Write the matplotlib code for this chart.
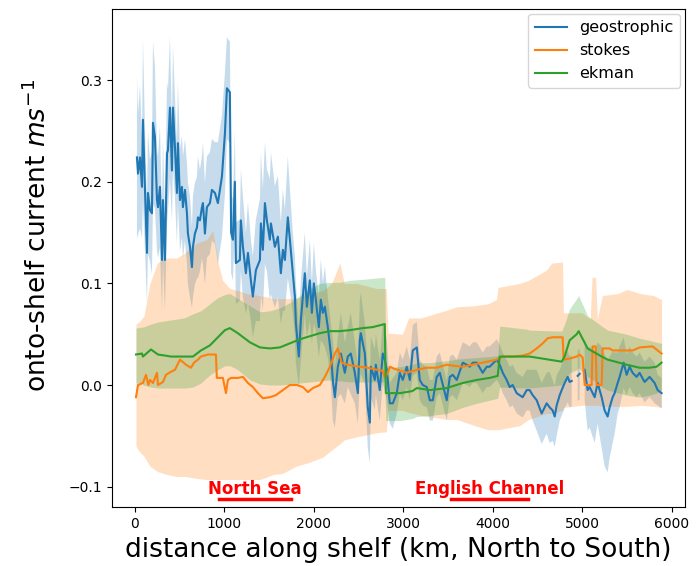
import numpy as np
import matplotlib.pyplot as plt

# distance along shelf (km) and onto-shelf current (m/s)
geo_km = [22, 34, 56, 78, 89, 112, 134, 145, 168, 190,
          201, 223, 246, 257, 279, 302, 313, 335, 358, 369,
          391, 413, 425, 447, 469, 480, 503, 525, 536, 559,
          581, 592, 615, 637, 648, 670, 693, 704, 726, 749,
          760, 782, 804, 838, 860, 894, 927, 972, 1006, 1028,
          1061, 1075, 1095, 1117, 1128, 1173, 1184, 1207, 1240, 1263,
          1296, 1318, 1352, 1397, 1408, 1430, 1453, 1475, 1508, 1520,
          1564, 1598, 1631, 1654, 1676, 1709, 1732, 1765, 1788, 1799,
          1832, 1855, 1899, 1922, 1955, 1978, 2000, 2022, 2056, 2078,
          2101, 2123, 2156, 2190, 2212, 2235, 2268, 2302, 2346, 2380,
          2413, 2458, 2492, 2514, 2525, 2570, 2603, 2626, 2637, 2682,
          2693, 2737, 2771, 2793, 2816,
          2849, 2883, 2927, 2961, 2994, 3039, 3073, 3106, 3151, 3184,
          3218, 3263, 3296, 3330, 3374, 3408, 3486, 3520, 3553, 3598,
          3665, 3709, 3743, 3777, 3821, 3888, 3933, 3966, 4045, 4078,
          4112, 4156, 4190, 4223, 4268, 4335, 4380, 4413, 4447, 4492,
          4547, 4603, 4637, 4670, 4693, 4715, 4749, 4771, 4804, 4838,
          4860, 4883, 4910, 4950, 4972, 4995, 5028, 5061, 5084, 5140,
          5173, 5218, 5251, 5285, 5307, 5341, 5363, 5397, 5419, 5464,
          5497, 5531, 5564, 5609, 5642, 5698, 5754, 5810, 5844, 5888]
geostrophic = [0.224, 0.208, 0.224, 0.195, 0.261, 0.192, 0.130, 0.189, 0.172, 0.169,
               0.258, 0.244, 0.182, 0.175, 0.195, 0.123, 0.182, 0.123, 0.228, 0.231,
               0.273, 0.211, 0.273, 0.234, 0.189, 0.238, 0.182, 0.195, 0.175, 0.192,
               0.169, 0.149, 0.136, 0.116, 0.136, 0.149, 0.155, 0.165, 0.162, 0.175,
               0.179, 0.149, 0.175, 0.179, 0.192, 0.189, 0.179, 0.205, 0.248, 0.292,
               0.288, 0.150, 0.143, 0.200, 0.120, 0.123, 0.162, 0.136, 0.110, 0.130,
               0.103, 0.087, 0.113, 0.123, 0.159, 0.133, 0.179, 0.162, 0.143, 0.159,
               0.136, 0.146, 0.110, 0.133, 0.123, 0.165, 0.143, 0.110, 0.087, 0.061,
               0.028, 0.064, 0.110, 0.077, 0.103, 0.071, 0.100, 0.084, 0.057, 0.084,
               0.071, 0.077, 0.057, 0.031, 0.005, -0.012, 0.018, 0.031, 0.012, 0.028,
               0.031, 0.012, -0.008, 0.044, 0.051, 0.031, -0.022, -0.037, 0.018, 0.005,
               0.020, -0.005, 0.031, 0.025, 0.015,
               -0.018, -0.018, -0.008, 0.012, 0.005, 0.018, 0.005, 0.034, 0.037, 0.005,
               0.000, -0.002, -0.015, -0.015, 0.008, 0.012, -0.015, 0.008, 0.010, 0.005,
               0.022, 0.020, 0.018, 0.022, 0.022, 0.012, 0.018, 0.018, 0.025, 0.020,
               0.012, 0.005, -0.002, 0.000, -0.008, -0.012, -0.005, -0.005, -0.010, -0.015,
               -0.028, -0.018, -0.022, -0.025, -0.031, -0.020, -0.010, -0.005, 0.002, 0.008,
               0.003, 0.004, np.nan, 0.009, 0.011, np.nan, 0.015, -0.005, -0.002, -0.012,
               0.002, -0.012, -0.025, -0.031, -0.022, -0.012, -0.008, 0.002, 0.008, 0.022,
               0.010, 0.018, 0.012, 0.008, 0.012, 0.003, 0.008, 0.002, -0.005, -0.008]
geo_err = [0.08, 0.06, 0.07, 0.05, 0.08, 0.06, 0.05, 0.06, 0.05, 0.06,
           0.08, 0.07, 0.05, 0.05, 0.06, 0.05, 0.06, 0.05, 0.07, 0.06,
           0.07, 0.05, 0.06, 0.05, 0.05, 0.06, 0.05, 0.05, 0.05, 0.05,
           0.05, 0.05, 0.05, 0.04, 0.05, 0.05, 0.05, 0.06, 0.05, 0.05,
           0.06, 0.05, 0.05, 0.05, 0.05, 0.05, 0.06, 0.06, 0.06, 0.05,
           0.05, 0.04, 0.04, 0.05, 0.04, 0.04, 0.05, 0.05, 0.04, 0.05,
           0.04, 0.04, 0.05, 0.06, 0.07, 0.06, 0.06, 0.05, 0.06, 0.07,
           0.06, 0.06, 0.05, 0.06, 0.05, 0.06, 0.05, 0.04, 0.04, 0.04,
           0.03, 0.04, 0.04, 0.03, 0.04, 0.03, 0.04, 0.03, 0.03, 0.04,
           0.03, 0.04, 0.03, 0.03, 0.04, 0.03, 0.03, 0.04, 0.03, 0.03,
           0.04, 0.03, 0.03, 0.04, 0.04, 0.03, 0.04, 0.04, 0.03, 0.03,
           0.03, 0.03, 0.03, 0.03, 0.03,
           0.02, 0.025, 0.02, 0.02, 0.02, 0.02, 0.02, 0.025, 0.025, 0.02,
           0.02, 0.02, 0.02, 0.02, 0.02, 0.02, 0.02, 0.02, 0.02, 0.02,
           0.02, 0.02, 0.02, 0.02, 0.02, 0.02, 0.02, 0.02, 0.02, 0.02,
           0.02, 0.02, 0.02, 0.02, 0.02, 0.02, 0.02, 0.02, 0.025, 0.03,
           0.03, 0.03, 0.035, 0.03, 0.03, 0.03, 0.025, 0.025, 0.025, 0.025,
           0.025, 0.025, np.nan, 0.025, 0.025, np.nan, 0.03, 0.04, 0.04, 0.045,
           0.04, 0.05, 0.055, 0.055, 0.05, 0.045, 0.04, 0.03, 0.03, 0.025,
           0.02, 0.02, 0.02, 0.02, 0.02, 0.02, 0.02, 0.02, 0.015, 0.015]

stokes_km = [11, 34, 89, 123, 150, 168, 201, 246, 257, 313, 346, 402, 447, 503, 570, 626, 660,
             704, 737, 816, 905, 915, 983, 1017, 1039, 1073, 1110, 1151, 1207, 1263, 1318, 1374,
             1430, 1508, 1575, 1654, 1732, 1810, 1877, 1933, 1989, 2067, 2123, 2179, 2235, 2268,
             2310, 2369, 2514, 2603, 2704, 2771, 2793, 2827, 2850, 2900, 3039, 3151, 3263, 3374,
             3486, 3553, 3665, 3777, 3888, 4045, 4112, 4223, 4335, 4413, 4492, 4559, 4615, 4670,
             4782, 4793, 4860, 4939, 4972, 5006, 5028, 5106, 5117, 5151, 5162, 5218, 5229, 5307,
             5341, 5497, 5564, 5642, 5788, 5844, 5888]
stokes = [-0.012, 0.000, 0.002, 0.010, 0.000, 0.005, 0.002, 0.012, 0.000, 0.003, 0.010, 0.013,
          0.015, 0.025, 0.020, 0.017, 0.022, 0.025, 0.028, 0.030, 0.030, 0.007, 0.007, -0.008,
          0.005, 0.007, 0.007, 0.007, 0.008, 0.002, -0.002, -0.008, -0.013, -0.012, -0.010,
          -0.005, 0.000, 0.000, -0.002, -0.007, -0.003, 0.000, 0.008, 0.018, 0.031, 0.036, 0.022,
          0.020, 0.018, 0.017, 0.015, 0.014, 0.007, 0.012, 0.018, 0.016, 0.012, 0.015, 0.017,
          0.017, 0.020, 0.019, 0.018, 0.020, 0.022, 0.025, 0.028, 0.028, 0.029, 0.031, 0.036,
          0.041, 0.046, 0.047, 0.047, 0.025, 0.026, 0.028, 0.030, 0.027, 0.000, 0.000, 0.038,
          0.038, 0.000, 0.000, 0.036, 0.036, 0.034, 0.034, 0.034, 0.037, 0.038, 0.034, 0.031]

stokes_band_km = [11, 45, 100, 168, 250, 350, 470, 560, 700, 800, 870, 930, 980, 1060, 1150,
                  1250, 1400, 1550, 1650, 1800, 1950, 2100, 2200, 2290, 2340, 2480, 2700, 2810,
                  2830, 2990, 3060, 3200, 3500, 3600, 3800, 3950, 4040, 4060, 4300, 4400, 4600,
                  4660, 4780, 4790, 5000, 5090, 5110, 5150, 5170, 5225, 5400, 5500, 5650, 5800,
                  5888]
stokes_lo = [-0.060, -0.065, -0.070, -0.080, -0.085, -0.088, -0.090, -0.090, -0.092, -0.093,
             -0.093, -0.093, -0.093, -0.093, -0.093, -0.093, -0.093, -0.088, -0.087, -0.080,
             -0.076, -0.071, -0.064, -0.058, -0.054, -0.051, -0.047, -0.046, -0.025, -0.025,
             -0.027, -0.030, -0.034, -0.034, -0.040, -0.044, -0.044, -0.044, -0.040, -0.034,
             -0.028, -0.028, -0.025, -0.022, -0.020, -0.020, -0.020, -0.020, -0.020, -0.021,
             -0.021, -0.021, -0.020, -0.021, -0.022]
stokes_hi = [0.060, 0.062, 0.068, 0.100, 0.120, 0.125, 0.125, 0.130, 0.140, 0.143, 0.152, 0.120,
             0.103, 0.095, 0.093, 0.090, 0.088, 0.085, 0.085, 0.085, 0.090, 0.093, 0.100, 0.120,
             0.100, 0.100, 0.095, 0.095, 0.051, 0.050, 0.066, 0.066, 0.074, 0.077, 0.078, 0.080,
             0.084, 0.096, 0.100, 0.103, 0.113, 0.120, 0.121, 0.071, 0.071, 0.065, 0.106, 0.106,
             0.065, 0.088, 0.090, 0.094, 0.090, 0.088, 0.084]

ekman_km = [11, 78, 89, 179, 257, 335, 402, 550, 648, 737, 838, 927, 1006, 1061, 1150, 1285,
            1397, 1508, 1620, 1732, 1844, 1955, 2067, 2179, 2291, 2402, 2547, 2659, 2793, 2805,
            2961, 3100, 3151, 3300, 3486, 3665, 3821, 3966, 4056, 4078, 4380, 4413, 4771, 4804,
            4860, 4939, 4961, 4990, 5061, 5140, 5218, 5285, 5497, 5642, 5750, 5832, 5888]
ekman = [0.030, 0.031, 0.028, 0.035, 0.030, 0.029, 0.028, 0.028, 0.028, 0.034, 0.039, 0.047,
         0.054, 0.056, 0.051, 0.042, 0.037, 0.036, 0.037, 0.041, 0.045, 0.048, 0.051, 0.053,
         0.053, 0.054, 0.056, 0.057, 0.060, -0.008, -0.008, -0.006, -0.003, -0.005, -0.003,
         0.002, 0.005, 0.007, 0.009, 0.028, 0.028, 0.028, 0.023, 0.028, 0.044, 0.050, 0.053,
         0.048, 0.036, 0.032, 0.028, 0.025, 0.020, 0.017, 0.017, 0.018, 0.022]
ekman_lo = [0.002, 0.002, 0.000, -0.002, -0.003, -0.003, -0.003, -0.003, -0.002, 0.002, 0.010,
            0.015, 0.019, 0.019, 0.015, 0.005, 0.001, 0.000, 0.000, 0.001, 0.002, 0.003, 0.004,
            0.005, 0.004, 0.003, 0.003, 0.003, 0.003, -0.035, -0.035, -0.033, -0.031, -0.030,
            -0.028, -0.022, -0.018, -0.015, -0.013, -0.002, -0.003, -0.003, 0.000, 0.005, 0.012,
            0.015, 0.017, 0.014, 0.008, 0.004, -0.002, -0.005, -0.010, -0.012, -0.010, -0.008,
            -0.005]
ekman_hi = [0.056, 0.057, 0.057, 0.060, 0.062, 0.063, 0.064, 0.066, 0.070, 0.073, 0.080, 0.086,
            0.089, 0.090, 0.085, 0.078, 0.072, 0.073, 0.076, 0.081, 0.088, 0.095, 0.100, 0.101,
            0.101, 0.103, 0.104, 0.105, 0.106, 0.017, 0.018, 0.020, 0.022, 0.022, 0.024, 0.026,
            0.027, 0.028, 0.029, 0.058, 0.055, 0.054, 0.053, 0.060, 0.075, 0.085, 0.088, 0.082,
            0.068, 0.063, 0.058, 0.054, 0.050, 0.046, 0.044, 0.042, 0.041]

regions = ["North Sea", "English Channel"]
region_start = [940, 3530]
region_end = [1750, 4390]

geo = np.array(geostrophic)
err = np.array(geo_err)

fig = plt.figure(figsize=(6.97, 5.66), dpi=100)
ax = fig.add_axes([0.1603, 0.1034, 0.8225, 0.8807])

ax.plot(geo_km, geo, label='geostrophic')
ax.fill_between(geo_km, geo - err, geo + err, alpha=0.25, lw=0)
ax.plot(stokes_km, stokes, label='stokes')
ax.fill_between(stokes_band_km, stokes_lo, stokes_hi, alpha=0.25, color='C1', lw=0)
ax.plot(ekman_km, ekman, label='ekman')
ax.fill_between(ekman_km, ekman_lo, ekman_hi, alpha=0.25, color='C2', lw=0)

for name, a, b in zip(regions, region_start, region_end):
    ax.plot([a, b], [-0.112, -0.112], color='red', lw=2.5)
    ax.text((a + b) / 2, -0.102, name, color='red', fontweight='bold', fontsize=12,
            ha='center', va='center')

ax.set_xlim(-260, 6150)
ax.set_ylim(-0.1205, 0.370)
ax.set_xlabel('distance along shelf (km, North to South)', fontsize=19)
ax.set_ylabel('onto-shelf current $ms^{-1}$', fontsize=19)
ax.yaxis.set_label_coords(-0.105, 0.545)
ax.legend(loc='upper right', fontsize=11.5, borderaxespad=0.3)

plt.savefig('out.png')
